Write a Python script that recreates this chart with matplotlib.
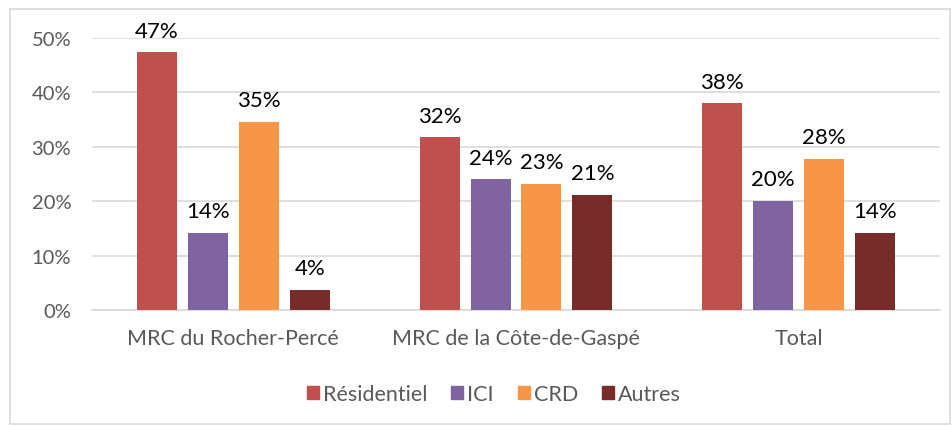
import matplotlib
matplotlib.use("Agg")
import matplotlib.pyplot as plt
from matplotlib.patches import Rectangle, Patch
import numpy as np

categories = ["MRC du Rocher-Percé", "MRC de la Côte-de-Gaspé", "Total"]
series_names = ["Résidentiel", "ICI", "CRD", "Autres"]
residentiel = [47.4, 31.8, 38.0]
ici = [14.2, 24.0, 20.1]
crd = [34.6, 23.2, 27.8]
autres = [3.7, 21.2, 14.2]
yticks = [0, 10, 20, 30, 40, 50]
colors = ["#C0504D", "#8064A2", "#F79646", "#772C2A"]

plt.rcParams['font.family'] = ['Lato', 'DejaVu Sans']

fig = plt.figure(figsize=(9.53, 4.27), dpi=100)
ax = fig.add_axes([92/953, 1-311/427, 848/953, 272/427])

x = np.arange(len(categories))
width = 0.1415
step = 0.18
all_series = [residentiel, ici, crd, autres]
for i, (vals, col, name) in enumerate(zip(all_series, colors, series_names)):
    pos = x + (i - 1.5) * step
    ax.bar(pos, vals, width=width, color=col, label=name, zorder=3)
    for p, v in zip(pos, vals):
        ax.text(p, v + 2.1, f"{round(v):.0f}%", ha='center', va='bottom',
                fontsize=16, color='black')

ax.set_xlim(-0.5, 2.5)
ax.set_ylim(0, 50)
ax.set_yticks(yticks)
ax.set_yticklabels([f"{t}%" for t in yticks])
ax.set_xticks(x)
ax.set_xticklabels(categories)
ax.grid(axis='y', color='#D9D9D9', linewidth=1.2, zorder=0)
ax.tick_params(axis='x', length=0, labelsize=15.5, colors='#595959', pad=13)
ax.tick_params(axis='y', length=0, labelsize=14.5, colors='#595959', pad=15)
for s in ['top', 'right', 'left']:
    ax.spines[s].set_visible(False)
ax.spines['bottom'].set_color('#D9D9D9')
ax.spines['bottom'].set_linewidth(1.2)

handles = [Patch(color=c) for c in colors]
fig.legend(handles, series_names, loc='center', bbox_to_anchor=(494/953, 1-395/427),
           ncol=4, frameon=False, fontsize=15.5, handlelength=0.55, handleheight=0.55,
           columnspacing=1.1, handletextpad=0.2, labelcolor='#595959')

fig.patches.append(Rectangle((10/953, 2/427), 940/953, 415/427, transform=fig.transFigure,
                             fill=False, edgecolor='#D9D9D9', linewidth=1.2))

fig.savefig("out.png", dpi=100)
